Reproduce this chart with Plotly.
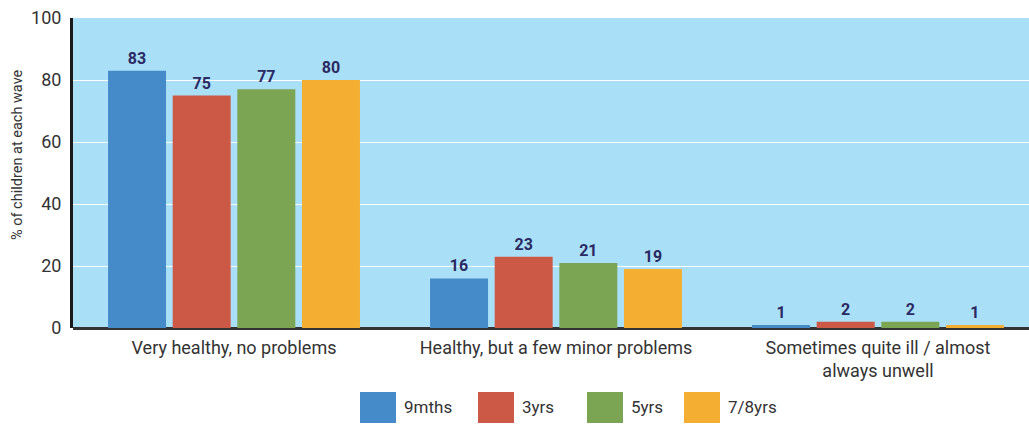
import plotly.graph_objects as go

categories = ["Very healthy, no problems", "Healthy, but a few minor problems",
              "Sometimes quite ill / almost<br>always unwell"]
series_names = ["9mths", "3yrs", "5yrs", "7/8yrs"]
values_9mths = [83, 16, 1]
values_3yrs = [75, 23, 2]
values_5yrs = [77, 21, 2]
values_78yrs = [80, 19, 1]
y_ticks = [0, 20, 40, 60, 80, 100]

colors = ["#468BC9", "#CB5946", "#7BA552", "#F4AF32"]
series_values = [values_9mths, values_3yrs, values_5yrs, values_78yrs]

W, H = 1029, 424
ML, MR, MT, MB = 73, 0, 18, 96
PW = W - ML - MR
PH = H - MT - MB

fig = go.Figure()
for name, vals, col in zip(series_names, series_values, colors):
    fig.add_trace(go.Bar(
        x=list(range(len(categories))), y=vals, name=name,
        marker=dict(color=col, line=dict(width=0)),
        text=[str(v) for v in vals], textposition="outside",
        textfont=dict(family="Roboto", size=16, color="#2B2A63", weight="bold"),
        cliponaxis=False, showlegend=False,
    ))

# custom legend (large square swatches)
legend_x = [360, 478, 587, 684]
sw_w, sw_h = 36, 31
sw_top = 392
for name, col, lx in zip(series_names, colors, legend_x):
    fig.add_shape(type="rect", xref="paper", yref="paper",
                  x0=(lx - ML) / PW, x1=(lx + sw_w - ML) / PW,
                  y0=(H - MB - (sw_top + sw_h)) / PH, y1=(H - MB - sw_top) / PH,
                  fillcolor=col, line=dict(width=0), layer="above")
    fig.add_annotation(xref="paper", yref="paper",
                       x=(lx + sw_w + 6 - ML) / PW, y=(H - MB - (sw_top + sw_h / 2)) / PH,
                       text=name, showarrow=False, xanchor="left", yanchor="middle",
                       font=dict(size=17, color="#333333"))

fig.add_annotation(xref="paper", yref="paper", x=(17 - ML) / PW, y=(H - MB - 155) / PH,
                   text="% of children at each wave", textangle=-90, showarrow=False,
                   xanchor="center", yanchor="middle",
                   font=dict(size=14.5, color="#333333"))

fig.update_layout(
    width=W, height=H,
    margin=dict(l=ML, r=MR, t=MT, b=MB, autoexpand=False),
    paper_bgcolor="white", plot_bgcolor="#AADFF8",
    barmode="group", bargap=0.197, bargroupgap=0.103,
    font=dict(family="Roboto", color="#333333"),
    showlegend=False,
)
fig.update_xaxes(
    tickmode="array", tickvals=list(range(len(categories))), ticktext=categories,
    range=[-0.5, -0.5 + PW / 322], showgrid=False,
    tickfont=dict(size=18, color="#333333"), ticks="", ticklabelstandoff=7,
    showline=False, zeroline=False, automargin=False,
)
fig.update_yaxes(
    range=[0, 100], tickvals=y_ticks, showgrid=True, gridcolor="white", gridwidth=1,
    tickfont=dict(size=18, color="#333333"), ticks="", ticklabelstandoff=5,
    showline=True, linecolor="#1A1A1A", linewidth=3,
    zeroline=True, zerolinecolor="#333333", zerolinewidth=3, automargin=False,
)
fig.write_html("out.html", config={"displayModeBar": False},
               post_script="document.body.style.margin='0';document.body.style.overflow='hidden';")
